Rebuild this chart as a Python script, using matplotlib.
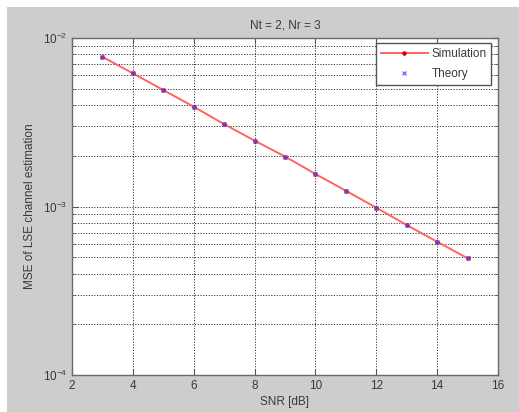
import numpy as np
import matplotlib
matplotlib.use("Agg")
import matplotlib.pyplot as plt
from matplotlib.patches import Rectangle
from matplotlib.ticker import LogLocator, NullFormatter, FixedLocator

# LSE channel estimation MSE versus SNR
snr_db = [3, 4, 5, 6, 7, 8, 9, 10, 11, 12, 13, 14, 15]
mse_sim = [7.74e-3, 6.17e-3, 4.91e-3, 3.91e-3, 3.08e-3, 2.46e-3, 1.98e-3,
           1.56e-3, 1.24e-3, 9.84e-4, 7.76e-4, 6.18e-4, 4.93e-4]
mse_theory = [7.74e-3, 6.17e-3, 4.91e-3, 3.91e-3, 3.08e-3, 2.46e-3, 1.98e-3,
              1.56e-3, 1.24e-3, 9.84e-4, 7.76e-4, 6.18e-4, 4.93e-4]
x_ticks = [2, 4, 6, 8, 10, 12, 14, 16]
title_text = "Nt = 2, Nr = 3"
xlabel_text = "SNR [dB]"
ylabel_text = "MSE of LSE channel estimation"

plt.rcParams["font.family"] = ["Liberation Sans", "DejaVu Sans"]
plt.rcParams["mathtext.fontset"] = "custom"
plt.rcParams["mathtext.rm"] = "Liberation Sans"

W, H = 519, 412
fig = plt.figure(figsize=(W / 100, H / 100), dpi=100)
fig.patch.set_facecolor("white")
# grey window area
fig.patches.append(Rectangle((7 / W, -0.01), 1.0, 1.01 - 7 / H,
                             transform=fig.transFigure, facecolor="#cdcdcd",
                             edgecolor="none", zorder=-10))

ax = fig.add_axes([72 / W, (H - 375) / H, (498 - 72) / W, (375 - 38) / H])
ax.set_facecolor("white")
ax.set_yscale("log")
ax.set_xlim(2, 16)
ax.set_ylim(1e-4, 1e-2)

txt = "#3a3a3a"
fs = 8.5

ax.plot(snr_db, mse_sim, color="#ff6464", lw=1.4, marker=".", ms=4.5,
        mfc="#d00010", mec="#d00010", label="Simulation", zorder=3)
ax.plot(snr_db, mse_theory, ls="none", marker="x", ms=3.5, mew=1.0,
        color="#5050ff", alpha=0.8, label="Theory", zorder=4)

ax.xaxis.set_major_locator(FixedLocator(x_ticks))
ax.yaxis.set_major_locator(LogLocator(base=10, numticks=10))
ax.yaxis.set_minor_locator(LogLocator(base=10, subs=np.arange(2, 10), numticks=10))
ax.yaxis.set_minor_formatter(NullFormatter())

ax.grid(True, which="major", axis="x", color="#333333", ls=(0, (1.2, 1.6)), lw=0.7)
ax.grid(True, which="both", axis="y", color="#333333", ls=(0, (1.2, 1.6)), lw=0.7)

ax.tick_params(which="both", direction="in", top=True, right=True,
               colors="#555555", labelcolor=txt, labelsize=fs)
ax.tick_params(which="major", length=4)
ax.tick_params(which="minor", length=2)
for s in ax.spines.values():
    s.set_color("#6a6a6a")
    s.set_linewidth(1.0)

ax.set_title(title_text, fontsize=fs, color=txt, pad=7)
ax.set_xlabel(xlabel_text, fontsize=fs, color=txt, labelpad=3)
ax.set_ylabel(ylabel_text, fontsize=fs, color=txt, labelpad=5)

leg = ax.legend(loc="upper right", fontsize=fs, frameon=True, fancybox=False,
                edgecolor="#555555", framealpha=1, borderaxespad=0.0,
                handlelength=4.0, handletextpad=0.3, borderpad=0.4,
                labelspacing=0.7, bbox_to_anchor=(0.984, 0.985))
leg.get_frame().set_linewidth(1.0)
for t in leg.get_texts():
    t.set_color(txt)

fig.savefig("out.png", dpi=100)
